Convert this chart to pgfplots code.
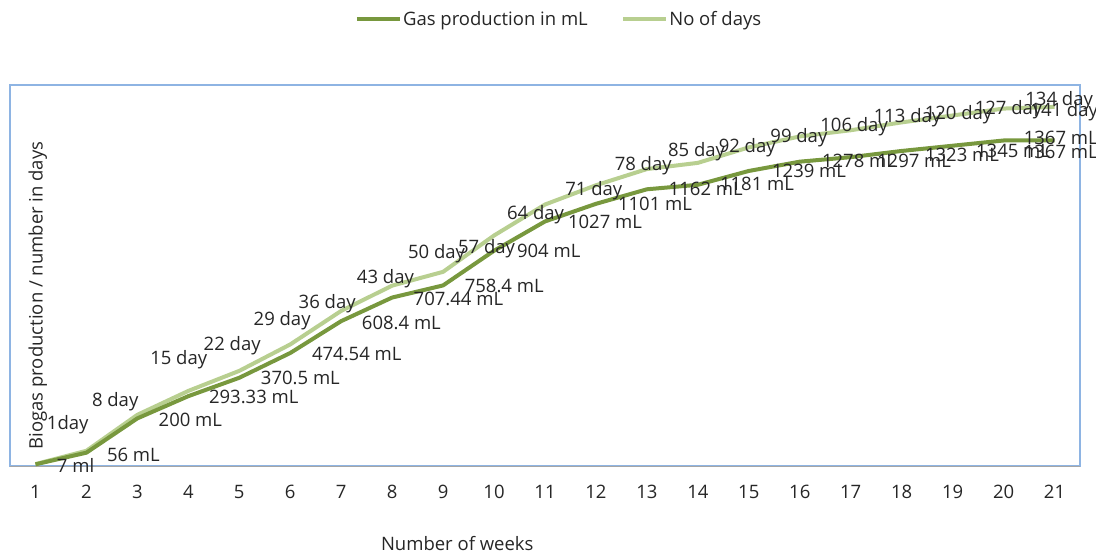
\documentclass[border=0pt]{standalone}
\usepackage{pgfplots}
\pgfplotsset{compat=1.18}
\usepackage{pgfplotstable}
\usepackage{fontspec}
\setmainfont{Open Sans}
\definecolor{gasc}{RGB}{120,152,62}
\definecolor{dayc}{RGB}{184,207,144}
\definecolor{boxc}{RGB}{142,180,227}
\definecolor{txt}{RGB}{38,38,38}

\pgfplotstableread[col sep=comma]{
x,gas,days,gl,gdx,gdy,dl,ddx,ddy
1,7,1,7 ml,19.5,-7.7,1day,9.5,34.1
2,56,8,56 mL,18.6,-9.3,8 day,3.6,44.1
3,200,15,200 mL,19.3,-8.3,15 day,10.9,50.8
4,293.33,22,293.33 mL,18.7,-7.1,22 day,13.4,40.9
5,370.5,29,370.5 mL,19.7,-7.2,29 day,12.4,44.9
6,474.54,36,474.54 mL,19.8,-7.7,36 day,6.5,36.1
7,608.4,43,608.4 mL,18.8,-7.9,43 day,13.8,27.6
8,707.44,50,707.44 mL,19.6,-7.5,50 day,13.9,27.3
9,758.4,57,758.4 mL,19.7,-6.9,57 day,13,18.5
10,904,64,904 mL,21,-6.6,64 day,11,15.5
11,1027,71,1027 mL,21,-6.9,71 day,18.3,9.5
12,1101,78,1101 mL,20.1,-6.2,78 day,16.8,14.3
13,1162,85,1162 mL,19.9,-6.7,85 day,19.2,12.4
14,1181,92,1181 mL,20.2,-6.2,92 day,18.9,10.2
15,1239,99,1239 mL,21.3,-6.3,99 day,19.6,5.1
16,1278,106,1278 mL,20.3,-5.6,106 day,18.6,4.7
17,1297,113,1297 mL,24.4,-10.6,113 day,21.1,7.5
18,1323,120,1323 mL,21.4,-11,120 day,21.1,2.4
19,1345,127,1345 mL,21.5,-12,127 day,20.2,1.2
20,1367,134,1367 mL,18.2,-17.8,134 day,19.8,2.9
21,1367,141,1367 mL,-32.7,-4.5,141 day,-26.1,-9.8
}\datatab

\begin{document}
\begin{tikzpicture}[font=\fontsize{18.5bp}{21bp}\selectfont]
\begin{axis}[
  scale only axis, width=1070bp, height=381bp,
  xmin=0.5, xmax=21.5, ymin=0, ymax=1600,
  xtick={1,...,21}, ytick=\empty,
  major tick length=0pt,
  axis line style={boxc, line width=1.2bp},
  stack plots=y,
  clip=false,
  /pgf/number format/assume math mode=true,
  xticklabel style={anchor=base, yshift=-32bp, text=txt},
  xlabel={Number of weeks},
  x label style={at={(axis description cs:0.418,-0.221)}, anchor=base, text=txt},
  ylabel={Biogas production / number in days},
  y label style={at={(axis description cs:0.0306,0.4475)}, anchor=base, text=txt},
  legend style={at={(axis description cs:0.513,1.173)}, anchor=center, draw=none, fill=none,
    text=txt, /tikz/every even column/.append style={column sep=32bp},
    nodes={inner sep=1.5bp}},
  legend columns=2,
  legend image code/.code={\draw[#1, line width=3.5bp] (0bp,0bp) -- (43bp,0bp);},
]
\addplot[gasc, line width=4bp, line join=round,
  point meta=explicit symbolic,
  visualization depends on={\thisrow{gdx} \as \ldx},
  visualization depends on={\thisrow{gdy} \as \ldy},
  nodes near coords,
  every node near coord/.append style={anchor=base west, inner sep=0pt, xshift=\ldx bp, yshift=\ldy bp, text=txt}
] table[x=x, y=gas, meta=gl] {\datatab};
\addlegendentry{Gas production in mL}
\addplot[dayc, line width=4bp, line join=round,
  point meta=explicit symbolic,
  visualization depends on={\thisrow{ddx} \as \mdx},
  visualization depends on={\thisrow{ddy} \as \mdy},
  nodes near coords,
  every node near coord/.append style={anchor=base west, inner sep=0pt, xshift=\mdx bp, yshift=\mdy bp, text=txt}
] table[x=x, y=days, meta=dl] {\datatab};
\addlegendentry{No of days}
\draw[color=black!35, line width=1bp] (rel axis cs:0,0) -- (rel axis cs:1,0);
\coordinate (bl) at (rel axis cs:0,0);
\coordinate (tr) at (rel axis cs:1,1);
\end{axis}
\pgfresetboundingbox
\path[use as bounding box] ([shift={(-10bp,-89bp)}]bl) rectangle ([shift={(16bp,85bp)}]tr);
\end{tikzpicture}
\end{document}
